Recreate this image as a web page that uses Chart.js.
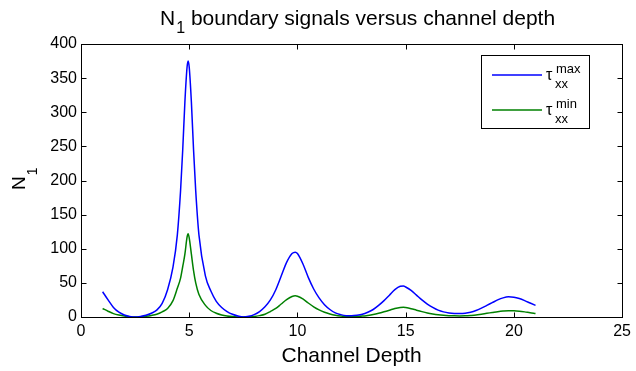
<!DOCTYPE html>
<html>
<head>
<meta charset="utf-8">
<script src="https://cdn.jsdelivr.net/npm/chart.js@4.4.1/dist/chart.umd.min.js"></script>
<style>
  html, body { margin: 0; padding: 0; background: #fff; }
  canvas { display: block; }
</style>
</head>
<body>
<canvas id="n1Chart" width="636" height="371"></canvas>
<script>
// channel depth samples (denser round the sharp peak near 5)
const depth = [
    1, 1.25, 1.5, 1.75, 2, 2.25, 2.5, 2.75, 3, 3.25, 3.5, 3.75, 4, 4.25,
    4.45, 4.6, 4.7, 4.8, 4.9, 4.95, 5, 5.1, 5.2, 5.3, 5.45,
    5.75, 6, 6.25, 6.5, 6.75, 7, 7.25, 7.5, 7.75, 8, 8.25, 8.5, 8.75, 9, 9.25, 9.5, 9.75,
    9.9,
    10, 10.25, 10.5, 10.75, 11, 11.25, 11.5, 11.75, 12, 12.25, 12.5, 12.75, 13, 13.25, 13.5, 13.75, 14, 14.25, 14.5, 14.75,
    14.9,
    15, 15.25, 15.5, 15.75, 16, 16.25, 16.5, 16.75, 17, 17.25, 17.5, 17.75, 18, 18.25, 18.5, 18.75, 19, 19.25, 19.5, 19.75, 20, 20.25, 20.5, 20.75, 21
];
const tauMax = [
    37, 25, 14, 7, 3, 0.8, 0, 0.8, 2.5, 5.5, 10, 20, 40, 73,
    120, 185, 245, 315, 366, 375, 366, 315, 245, 185, 120,
    60, 38, 23, 14, 8, 4, 1.5, 0, 1, 3.5, 8, 15, 25, 40, 60, 80, 93,
    95,
    93, 78, 58, 41, 28, 18, 11, 6, 3.5, 2, 1.8, 2.5, 4, 7, 11, 17, 24, 32, 40, 45,
    45.5,
    44, 39, 32, 25, 19, 14, 10, 7.5, 6, 5.2, 5, 5.5, 7, 9.5, 13, 17, 21, 25, 28, 29.5, 29, 27, 24, 20.5, 17
];
const tauMin = [
    12.5, 8.5, 5, 2.8, 1.3, 0.4, 0, 0.3, 1, 2.2, 4, 7.5, 12.5, 24,
    42, 57, 74, 92, 117, 122, 116, 92, 68, 50, 33,
    17, 9.5, 5.5, 3, 1.5, 0.6, 0.15, 0, 0.2, 0.8, 2, 4, 8, 12.5, 19, 25.5, 30,
    31,
    30.5, 26.5, 20.5, 15, 10.5, 7, 4.5, 2.7, 1.6, 1, 0.8, 0.8, 1.3, 2.3, 3.6, 5.4, 7.6, 10, 12.5, 14,
    14.2,
    13.8, 12.2, 10, 7.9, 6, 4.5, 3.3, 2.5, 2, 1.7, 1.6, 1.8, 2.3, 3, 4.2, 5.4, 6.6, 7.8, 8.7, 9.2, 9.1, 8.5, 7.5, 6.3, 5.3
];
const xTicks = [0, 5, 10, 15, 20, 25];
const yTicks = [0, 50, 100, 150, 200, 250, 300, 350, 400];
const legendSup = ['max', 'min'];
const lineColors = ['#0000ff', '#008000'];

const FONT = '"Liberation Sans", Arial, Helvetica, sans-serif';

// MATLAB-style box, inward ticks, title, ylabel with subscript and tex legend
const matlabDecor = {
    id: 'matlabDecor',
    afterDraw(chart) {
        const { ctx, chartArea: a, scales: { x, y } } = chart;
        ctx.save();
        ctx.strokeStyle = '#000';
        ctx.lineWidth = 1;
        const L = Math.round(a.left) + 0.5, R = Math.round(a.right) + 0.5;
        const T = Math.round(a.top) + 0.5, B = Math.round(a.bottom) + 0.5;
        ctx.strokeRect(L, T, R - L, B - T);
        ctx.beginPath();
        xTicks.forEach(v => {
            const px = Math.round(x.getPixelForValue(v)) + 0.5;
            ctx.moveTo(px, B); ctx.lineTo(px, B - 5);
            ctx.moveTo(px, T); ctx.lineTo(px, T + 5);
        });
        yTicks.forEach(v => {
            const py = Math.round(y.getPixelForValue(v)) + 0.5;
            ctx.moveTo(L, py); ctx.lineTo(L + 5, py);
            ctx.moveTo(R, py); ctx.lineTo(R - 5, py);
        });
        ctx.stroke();

        // title
        ctx.fillStyle = '#000';
        ctx.textAlign = 'left';
        ctx.textBaseline = 'alphabetic';
        let tx = 160;
        ctx.font = '21px ' + FONT;
        ctx.fillText('N', tx, 25);
        tx += ctx.measureText('N').width + 1;
        ctx.font = '16px ' + FONT;
        ctx.fillText('1', tx, 33);
        tx += ctx.measureText('1').width;
        ctx.font = '21px ' + FONT;
        ctx.fillText(' boundary signals versus channel depth', tx, 25);

        // y label
        ctx.save();
        ctx.translate(25, 190);
        ctx.rotate(-Math.PI / 2);
        ctx.font = '19px ' + FONT;
        ctx.fillText('N', 0, 0);
        const nw = ctx.measureText('N').width;
        ctx.font = '14px ' + FONT;
        ctx.fillText('1', nw + 1, 12);
        ctx.restore();

        // legend
        ctx.fillStyle = '#fff';
        ctx.fillRect(482, 56, 108, 73);
        ctx.strokeStyle = '#000';
        ctx.strokeRect(481.5, 55.5, 108, 73);
        legendSup.forEach((sup, i) => {
            const ly = 75 + i * 35;
            ctx.strokeStyle = lineColors[i];
            ctx.lineWidth = 1.5;
            ctx.beginPath();
            ctx.moveTo(492, ly); ctx.lineTo(542, ly);
            ctx.stroke();
            ctx.fillStyle = '#000';
            ctx.font = '16px ' + FONT;
            ctx.fillText('\u03c4', 546, ly + 5);
            ctx.font = '13px ' + FONT;
            ctx.fillText('xx', 555, ly + 13);
            ctx.fillText(sup, 556, ly - 2);
        });
        ctx.restore();
    }
};

new Chart(document.getElementById('n1Chart'), {
    type: 'line',
    data: {
        datasets: [
            { label: 'tau_xx max', data: depth.map((d, i) => ({ x: d, y: tauMax[i] })), borderColor: lineColors[0], borderWidth: 1.5, pointRadius: 0, cubicInterpolationMode: 'monotone', fill: false },
            { label: 'tau_xx min', data: depth.map((d, i) => ({ x: d, y: tauMin[i] })), borderColor: lineColors[1], borderWidth: 1.5, pointRadius: 0, cubicInterpolationMode: 'monotone', fill: false }
        ]
    },
    options: {
        responsive: false, animation: false,
        layout: { padding: { top: 44, right: 13, left: 0, bottom: 0 } },
        plugins: { legend: { display: false }, title: { display: false }, tooltip: { enabled: false } },
        scales: {
            x: {
                type: 'linear', min: 0, max: 25,
                afterBuildTicks: s => { s.ticks = xTicks.map(v => ({ value: v })); },
                afterFit: s => { s.height = 54; },
                grid: { display: false, drawTicks: false }, border: { display: false },
                ticks: { color: '#000', font: { family: FONT, size: 16 }, padding: 5, maxRotation: 0 },
                title: { display: true, text: 'Channel Depth', color: '#000', font: { family: FONT, size: 21 }, padding: { top: 0, bottom: 2 } }
            },
            y: {
                type: 'linear', min: 0, max: 400,
                afterBuildTicks: s => { s.ticks = yTicks.map(v => ({ value: v })); },
                afterFit: s => { s.width = 81; },
                grid: { display: false, drawTicks: false }, border: { display: false },
                ticks: { color: '#000', font: { family: FONT, size: 16 }, padding: 4 }
            }
        }
    },
    plugins: [matlabDecor]
});
</script>
</body>
</html>
